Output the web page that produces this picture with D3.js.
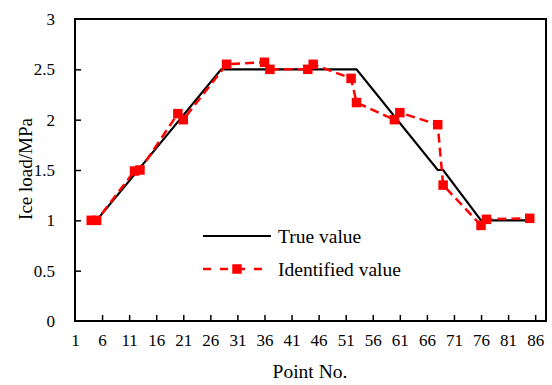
<!DOCTYPE html>
<html lang="en">
	<head>
		<meta charset="utf-8">
		<title>Ice load: true vs identified</title>
		<script type="text/javascript" src="https://d3js.org/d3.v7.min.js"></script>
		<style type="text/css">
			body { margin: 0; background: #fff; }
			svg text { font-family: "Liberation Serif", "Times New Roman", serif !important; }
		</style>
	</head>
	<body>
		<script type="text/javascript">

// DATA
			var trueX = [5, 28, 53, 68, 69, 76, 85];
			var trueY = [1, 2.5, 2.5, 1.5, 1.5, 1, 1];

			var identX = [4, 5, 12, 13, 20, 21, 29, 36, 37, 44, 45, 52, 53, 60, 61, 68, 69, 76, 77, 85];
			var identY = [1.0, 1.0, 1.49, 1.5, 2.06, 2.0, 2.55, 2.57, 2.5, 2.5, 2.55, 2.41, 2.17, 2.0, 2.07, 1.95, 1.35, 0.95, 1.01, 1.02];

			var xTicks = [1, 6, 11, 16, 21, 26, 31, 36, 41, 46, 51, 56, 61, 66, 71, 76, 81, 86];
			var yTicks = [0, 0.5, 1, 1.5, 2, 2.5, 3];

			var seriesNames = ["True value", "Identified value"];

// SIZE (note: "top" is taken by window.top, so use other names)
			var w = 552;
			var h = 385;
			var plotL = 75, plotR = 546, plotT = 19, plotB = 321;
			var serif = '"Liberation Serif", "Times New Roman", serif';

			var svg = d3.select("body")
						.append("svg")
						.attr("width", w)
						.attr("height", h)
						.attr("font-family", serif);

// SCALES
			var x = d3.scaleLinear()
						.domain([1, 88])
						.range([plotL, plotR]);
			var y = d3.scaleLinear()
						.domain([0, 3])
						.range([plotB, plotT]);

// AXES (ticks pointing inside)
			var xAxis = d3.axisBottom(x)
						.tickValues(xTicks)
						.tickSizeInner(-6)
						.tickSizeOuter(0)
						.tickPadding(13)
						.tickFormat(d3.format("d"));
			var yAxis = d3.axisLeft(y)
						.tickValues(yTicks)
						.tickSizeInner(-6)
						.tickSizeOuter(0)
						.tickPadding(20)
						.tickFormat(function(d){ return String(d); });

			var gx = svg.append("g")
						.attr("transform", "translate(0," + plotB + ")")
						.call(xAxis)
						.attr("font-family", null);
			var gy = svg.append("g")
						.attr("transform", "translate(" + plotL + ",0)")
						.call(yAxis)
						.attr("font-family", null);

			svg.selectAll(".domain").remove();
			svg.selectAll(".tick line")
				.attr("stroke", "#000")
				.attr("stroke-width", 1.5);
			svg.selectAll(".tick text")
				.attr("fill", "#000")
				.style("font-size", "17px")
				.style("font-family", serif);
			gx.selectAll(".tick line").filter(function(d){ return d === 1; }).remove();
			gy.selectAll(".tick line").filter(function(d){ return d === 0 || d === 3; }).remove();

// FRAME
			svg.append("rect")
				.attr("x", plotL)
				.attr("y", plotT)
				.attr("width", plotR - plotL)
				.attr("height", plotB - plotT)
				.attr("fill", "none")
				.attr("stroke", "#000")
				.attr("stroke-width", 2);

// TITLES
			svg.append("text")
				.attr("x", 310)
				.attr("y", 378)
				.attr("text-anchor", "middle")
				.attr("font-size", "19.5px")
				.text("Point No.");

			svg.append("text")
				.attr("transform", "translate(32,169) rotate(-90)")
				.attr("text-anchor", "middle")
				.attr("font-size", "19px")
				.text("Ice load/MPa");

// LINES
			var trueData = trueX.map(function(d, i){ return [d, trueY[i]]; });
			var identData = identX.map(function(d, i){ return [d, identY[i]]; });

			var line = d3.line()
						.x(function(d){ return x(d[0]); })
						.y(function(d){ return y(d[1]); });

			svg.append("path")
				.datum(trueData)
				.attr("d", line)
				.attr("fill", "none")
				.attr("stroke", "#000")
				.attr("stroke-width", 2.2);

			svg.append("path")
				.datum(identData)
				.attr("d", line)
				.attr("fill", "none")
				.attr("stroke", "#ff0000")
				.attr("stroke-width", 2.5)
				.attr("stroke-dasharray", "9,5");

			var ms = 9.5;
			svg.selectAll(".mk")
				.data(identData)
				.enter()
				.append("rect")
				.attr("class", "mk")
				.attr("x", function(d){ return x(d[0]) - ms / 2; })
				.attr("y", function(d){ return y(d[1]) - ms / 2; })
				.attr("width", ms)
				.attr("height", ms)
				.attr("fill", "#ff0000");

// LEGEND
			var lg = svg.append("g");
			lg.append("line")
				.attr("x1", 203).attr("x2", 271)
				.attr("y1", 236).attr("y2", 236)
				.attr("stroke", "#000")
				.attr("stroke-width", 2.2);
			lg.append("text")
				.attr("x", 278).attr("y", 242.5)
				.attr("font-size", "19.5px")
				.text(seriesNames[0]);

			lg.append("line")
				.attr("x1", 203).attr("x2", 271)
				.attr("y1", 269).attr("y2", 269)
				.attr("stroke", "#ff0000")
				.attr("stroke-width", 2.5)
				.attr("stroke-dasharray", "8,9");
			lg.append("rect")
				.attr("x", 237 - ms / 2).attr("y", 269 - ms / 2)
				.attr("width", ms).attr("height", ms)
				.attr("fill", "#ff0000");
			lg.append("text")
				.attr("x", 278).attr("y", 275.5)
				.attr("font-size", "19.5px")
				.text(seriesNames[1]);

		</script>
	</body>
</html>
